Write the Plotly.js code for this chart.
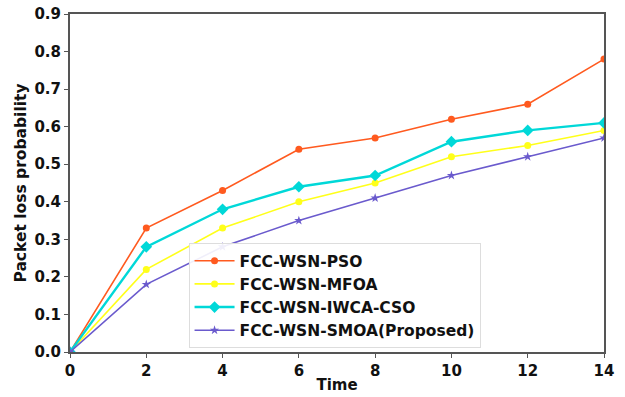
<!DOCTYPE html>
<html>
<head>
<meta charset="utf-8">
<script src="https://cdn.plot.ly/plotly-3.0.1.min.js"></script>
<style>html,body{margin:0;padding:0;background:#fff;}#chart{width:625px;height:397px;}</style>
</head>
<body>
<div id="chart"></div>
<script>
const time = [0, 2, 4, 6, 8, 10, 12, 14];
const pso = [0, 0.33, 0.43, 0.54, 0.57, 0.62, 0.66, 0.78];
const mfoa = [0, 0.22, 0.33, 0.40, 0.45, 0.52, 0.55, 0.59];
const iwcaCso = [0, 0.28, 0.38, 0.44, 0.47, 0.56, 0.59, 0.61];
const smoa = [0, 0.18, 0.28, 0.35, 0.41, 0.47, 0.52, 0.57];
const names = ["FCC-WSN-PSO", "FCC-WSN-MFOA", "FCC-WSN-IWCA-CSO", "FCC-WSN-SMOA(Proposed)"];
const xTicks = [0, 2, 4, 6, 8, 10, 12, 14];
const yTicks = [0, 0.1, 0.2, 0.3, 0.4, 0.5, 0.6, 0.7, 0.8, 0.9];

const colors = ["#ff5a1f", "#ffff1a", "#00d8d8", "#6a5acd"];
const symbols = ["circle", "circle", "diamond", "star"];
const series = [pso, mfoa, iwcaCso, smoa];
const widths = [1.6, 1.6, 2.4, 1.6];
const sizes = [7, 7, 9, 7];

const traces = series.map((y, i) => ({
  x: time, y: y, name: names[i], type: "scatter", mode: "lines+markers",
  line: {color: colors[i], width: widths[i]},
  marker: {color: colors[i], symbol: symbols[i], size: sizes[i]}
}));

const bold = (s) => ({family: "DejaVu Sans", size: s, color: "#111", weight: "bold"});
const layout = {
  width: 625, height: 397,
  margin: {l: 70, r: 21, t: 14, b: 45},
  paper_bgcolor: "#fff", plot_bgcolor: "#fff",
  font: {family: "DejaVu Sans", size: 15, color: "#111"},
  showlegend: true,
  legend: {
    x: 0.222, y: 0.322, xanchor: "left", yanchor: "top",
    bgcolor: "rgba(255,255,255,0.9)", bordercolor: "#ddd", borderwidth: 1,
    font: bold(15.5),
    tracegroupgap: 0, itemwidth: 40
  },
  xaxis: {
    range: [0, 14], tickvals: xTicks, ticktext: xTicks.map(String),
    showgrid: false, zeroline: false, showline: true, mirror: true,
    linecolor: "#555", linewidth: 2, ticks: "outside", ticklen: 4, tickcolor: "#555",
    tickfont: bold(15),
    title: {text: "Time", font: bold(15), standoff: 0}
  },
  yaxis: {
    range: [0, 0.9], tickvals: yTicks, ticktext: yTicks.map(v => v.toFixed(1)),
    showgrid: false, zeroline: false, showline: true, mirror: true,
    linecolor: "#555", linewidth: 2, ticks: "outside", ticklen: 4, tickcolor: "#555",
    tickfont: bold(15),
    title: {text: "Packet loss probability", font: bold(15.5), standoff: 4}
  }
};

Plotly.newPlot("chart", traces, layout, {displayModeBar: false, staticPlot: true});
</script>
</body>
</html>
